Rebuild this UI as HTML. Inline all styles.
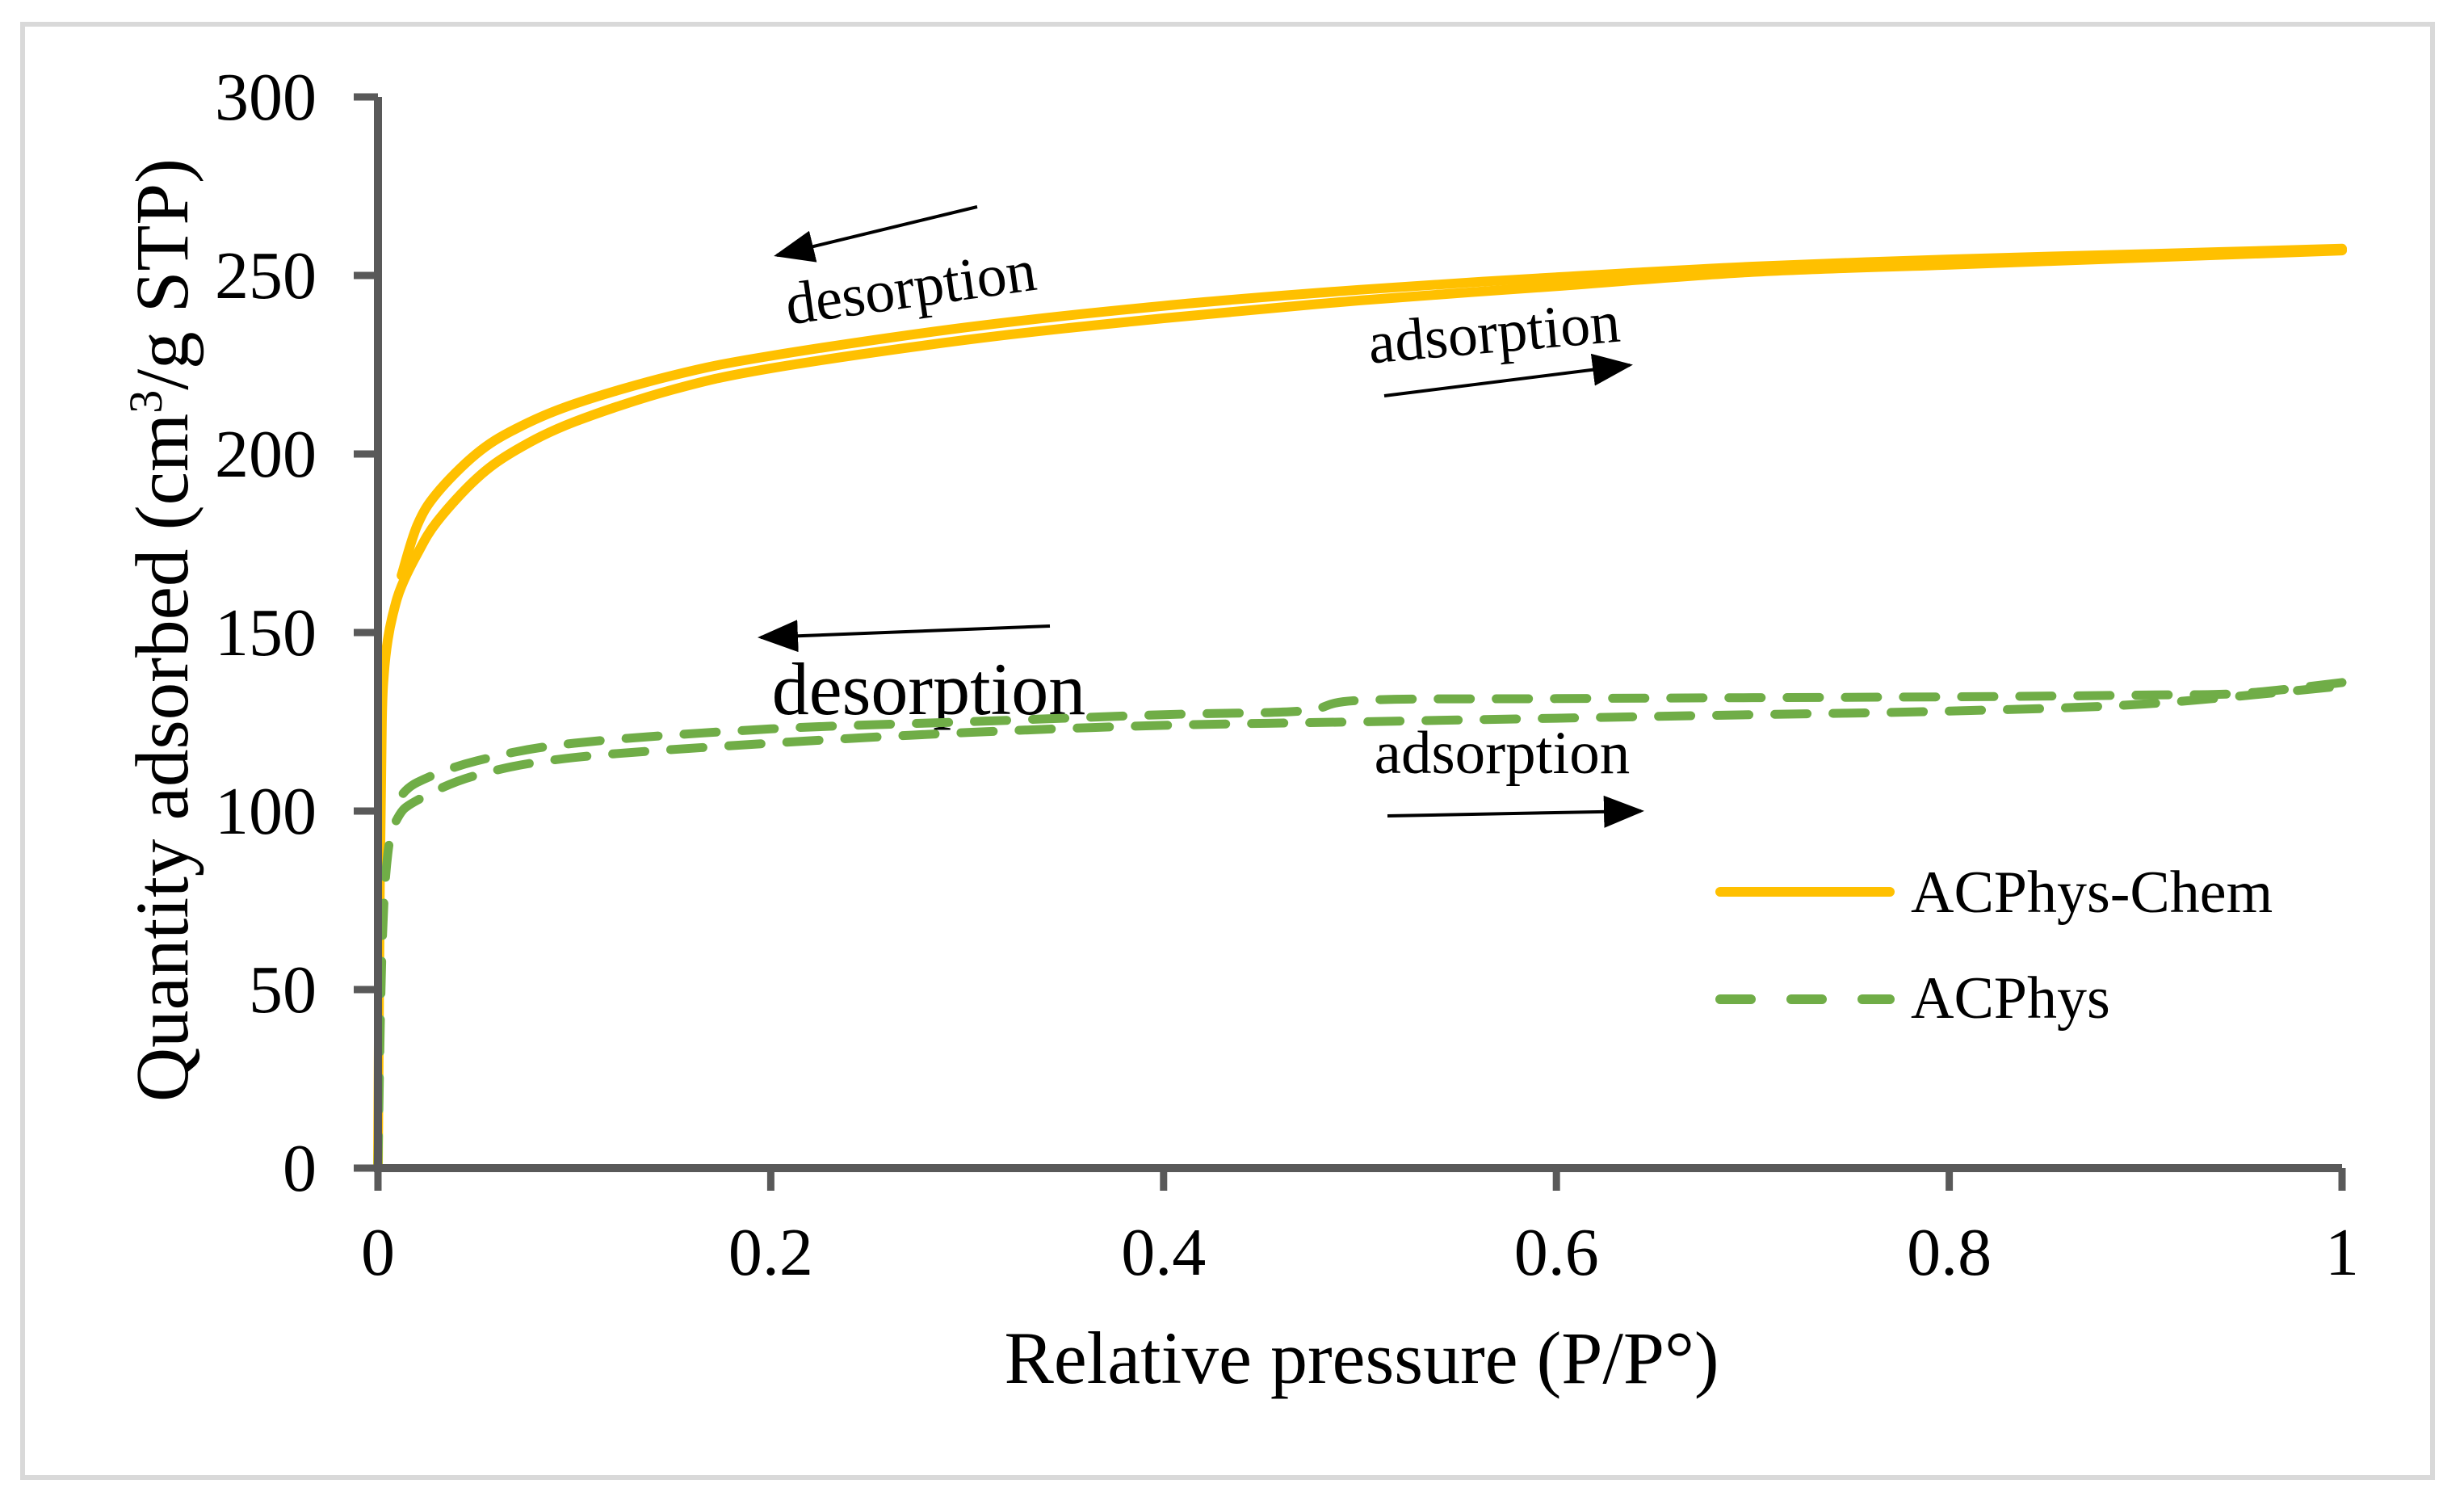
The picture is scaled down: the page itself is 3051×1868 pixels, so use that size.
<!DOCTYPE html>
<html><head><meta charset="utf-8"><style>
html,body{margin:0;padding:0;background:#fff}
svg{display:block}
text{font-family:"Liberation Serif",serif;fill:#000}
</style></head><body>
<svg width="3051" height="1868" viewBox="0 0 3051 1868" xmlns="http://www.w3.org/2000/svg">
<defs>
<marker id="ah" markerWidth="50" markerHeight="40" refX="46" refY="20" orient="auto" markerUnits="userSpaceOnUse"><path d="M0,0 L50,20 L0,40 z" fill="#000"/></marker>
</defs>
<rect x="28" y="30" width="2984" height="1799" fill="#fff" stroke="#d9d9d9" stroke-width="6"/>
<g id="ann"></g>
<g id="plot"></g>
<g id="axes"></g>
<text x="1686" y="1712" font-size="92" text-anchor="middle">Relative pressure (P/P°)</text>
<text transform="translate(232,780) rotate(-90)" font-size="93" text-anchor="middle">Quantity adsorbed (cm<tspan baseline-shift="super" font-size="58">3</tspan>/g STP)</text>
<g>
<line x1="2130" y1="1104" x2="2340" y2="1104" stroke="#ffc000" stroke-width="12" stroke-linecap="round"/>
<text x="2366" y="1129" font-size="74">ACPhys-Chem</text>
<line x1="2130" y1="1237" x2="2340" y2="1237" stroke="#70ad47" stroke-width="12" stroke-linecap="round" stroke-dasharray="38 50"/>
<text x="2366" y="1260" font-size="74">ACPhys</text>
</g>
</svg>
<script>
const xTicks=[0,0.2,0.4,0.6,0.8,1];
const xTickLabels=["0","0.2","0.4","0.6","0.8","1"];
const yTicks=[0,50,100,150,200,250,300];
const yTickLabels=["0","50","100","150","200","250","300"];
const chemAdsX=[0,0.001,0.002,0.003,0.005,0.008,0.012,0.02,0.03,0.05,0.07,0.1,0.15,0.2,0.3,0.4,0.5,0.6,0.7,0.8,0.9,1];
const chemAdsY=[0,80,125,138,148,156,163,172,181,193,201,209,218,224,232,238,243,247,251,253,255,257];
const chemDesX=[1,0.9,0.8,0.7,0.6,0.5,0.4,0.3,0.2,0.15,0.1,0.07,0.05,0.03,0.02,0.012];
const chemDesY=[257.5,256,254.5,252.5,249.5,246,241.5,235.5,227.5,222,214,207,200,189,180,166];
const physAdsX=[0,0.002,0.005,0.01,0.02,0.05,0.1,0.2,0.3,0.4,0.5,0.6,0.7,0.8,0.9,1];
const physAdsY=[0,60,88,98,103,110,115,119,122,124,125,126,127,128,130,135];
const physDesX=[1,0.95,0.9,0.8,0.6,0.5,0.47,0.4,0.3,0.2,0.1,0.05,0.02,0.01];
const physDesY=[136,133,132.5,132,131.5,131,128,127,125,123,119,114,108,103];
const NS="http://www.w3.org/2000/svg";
const X0=468,X1=2900,Y0=1446,Y1=120;
const sx=v=>X0+(X1-X0)*v;
const sy=v=>Y0-(Y0-Y1)*v/300;
function mk(tag,attrs,parent){const e=document.createElementNS(NS,tag);for(const k in attrs)e.setAttribute(k,attrs[k]);parent.appendChild(e);return e;}
const plot=document.getElementById('plot'),axes=document.getElementById('axes'),ann=document.getElementById('ann');
function smooth(pts){
 let d='M'+pts[0][0].toFixed(1)+','+pts[0][1].toFixed(1);
 for(let i=0;i<pts.length-1;i++){
  const p0=pts[Math.max(0,i-1)],p1=pts[i],p2=pts[i+1],p3=pts[Math.min(pts.length-1,i+2)];
  const c1=[p1[0]+(p2[0]-p0[0])/6,p1[1]+(p2[1]-p0[1])/6];
  const c2=[p2[0]-(p3[0]-p1[0])/6,p2[1]-(p3[1]-p1[1])/6];
  d+=` C${c1[0].toFixed(1)},${c1[1].toFixed(1)} ${c2[0].toFixed(1)},${c2[1].toFixed(1)} ${p2[0].toFixed(1)},${p2[1].toFixed(1)}`;
 }
 return d;
}
function series(xs,ys,color,dash,name){
 const pts=xs.map((x,i)=>[sx(x),sy(ys[i])]);
 const p=mk('path',{d:smooth(pts),fill:'none',stroke:color,'stroke-width':dash?11:12,'stroke-linejoin':'round','stroke-linecap':'round'},plot);
 if(dash)p.setAttribute('stroke-dasharray','40 32');
 
 
}
series(chemAdsX,chemAdsY,'#ffc000',false,'acphys-chem-adsorption-line');
series(chemDesX,chemDesY,'#ffc000',false,'acphys-chem-desorption-line');
series(physAdsX,physAdsY,'#70ad47',true,'acphys-adsorption-line');
series(physDesX,physDesY,'#70ad47',true,'acphys-desorption-line');
const ax=mk('path',{d:`M${X0},${Y1} L${X0},${Y0} L${X1},${Y0}`,fill:'none',stroke:'#595959','stroke-width':10},axes);


yTicks.forEach((v,i)=>{
 const t=mk('line',{x1:X0-30,x2:X0,y1:sy(v),y2:sy(v),stroke:'#595959','stroke-width':9},axes);
 
 
 const l=mk('text',{x:392,y:sy(v)+28,'font-size':84,'text-anchor':'end'},axes);
 l.textContent=yTickLabels[i];
 
 
});
xTicks.forEach((v,i)=>{
 const t=mk('line',{x1:sx(v),x2:sx(v),y1:Y0,y2:Y0+28,stroke:'#595959','stroke-width':9},axes);
 
 
 const l=mk('text',{x:sx(v),y:1578,'font-size':84,'text-anchor':'middle'},axes);
 l.textContent=xTickLabels[i];
 
 
});
function label(txt,x,y,rot,fs,name){const t=mk('text',{x:x,y:y,'font-size':fs,'text-anchor':'middle',transform:`rotate(${rot} ${x} ${y})`},ann);t.textContent=txt;}
function arrow(x1,y1,x2,y2,name){const a=mk('line',{x1:x1,y1:y1,x2:x2,y2:y2,stroke:'#000','stroke-width':4,'marker-end':'url(#ah)'},ann);}
label('desorption',1131,380,-8,74,'chem-desorption-label');
arrow(1210,256,962,316,'chem-desorption-arrow');
label('adsorption',1852,436,-5,74,'chem-adsorption-label');
arrow(1714,490,2018,452,'chem-adsorption-arrow');
label('desorption',1150,884,0,92,'phys-desorption-label');
arrow(1300,775,942,789,'phys-desorption-arrow');
label('adsorption',1860,957,0,75,'phys-adsorption-label');
arrow(1718,1010,2032,1004,'phys-adsorption-arrow');
</script>
</body></html>
